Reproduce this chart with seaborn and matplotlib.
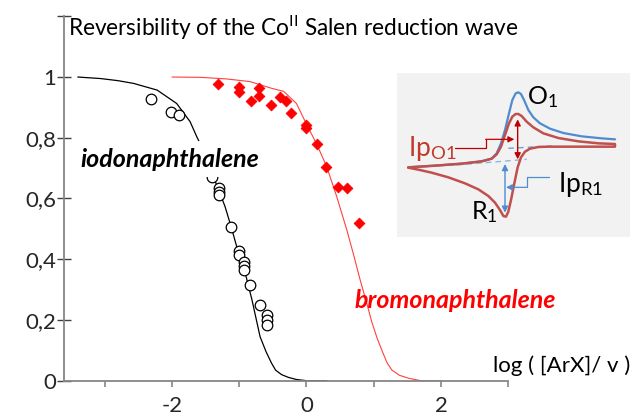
import numpy as np
import pandas as pd
import matplotlib
matplotlib.use("Agg")
import matplotlib.pyplot as plt
import seaborn as sns

# ---------------- data ----------------
iodo_x = [-2.31, -2.015, -1.90, -1.405, -1.307, -1.307, -1.307, -1.123, -1.0, -1.0,
          -0.926, -0.926, -0.926, -0.837, -0.698, -0.589, -0.589, -0.589]
iodo_y = [0.927, 0.885, 0.874, 0.672, 0.633, 0.622, 0.611, 0.507, 0.428, 0.414,
          0.392, 0.378, 0.363, 0.315, 0.249, 0.216, 0.199, 0.183]

bromo_x = [-1.31, -1.01, -1.0, -0.70, -0.70, -0.83, -0.53, -0.40, -0.30, -0.23,
           0.0, 0.0, 0.16, 0.29, 0.47, 0.60, 0.78]
bromo_y = [0.977, 0.968, 0.952, 0.963, 0.937, 0.921, 0.909, 0.935, 0.922, 0.880,
           0.842, 0.831, 0.779, 0.705, 0.637, 0.633, 0.518]

iodo_fit_x = [-3.4, -3.06, -2.8, -2.57, -2.22, -1.93, -1.73, -1.63, -1.5, -1.40, -1.30,
              -1.21, -1.12, -1.03, -0.91, -0.81, -0.69, -0.60, -0.52, -0.46, -0.37,
              -0.27, -0.15, 0.0, 0.3]
iodo_fit_y = [1.0, 0.995, 0.988, 0.979, 0.957, 0.913, 0.853, 0.803, 0.745, 0.68, 0.625,
              0.573, 0.507, 0.436, 0.354, 0.266, 0.145, 0.095, 0.058, 0.035, 0.020,
              0.011, 0.004, 0.0, 0.0]

bromo_fit_x = [-2.0, -1.58, -1.2, -0.84, -0.52, -0.34, -0.15, 0.0, 0.15, 0.30, 0.45,
               0.60, 0.70, 0.80, 0.89, 0.97, 1.05, 1.13, 1.20, 1.27, 1.38, 1.52, 1.70, 2.0]
bromo_fit_y = [1.0, 0.999, 0.994, 0.985, 0.963, 0.953, 0.913, 0.845, 0.78, 0.705,
               0.606, 0.496, 0.415, 0.33, 0.26, 0.194, 0.14, 0.095, 0.058, 0.035, 0.018,
               0.008, 0.0, 0.0]

y_ticks = [0, 0.2, 0.4, 0.6, 0.8, 1.0, 1.2]
y_labels = ["0", "0,2", "0,4", "0,6", "0,8", "1", ""]
x_ticks = [-3, -2, -1, 0, 1, 2, 3]
x_labels = ["", "-2", "", "0", "", "2", ""]

# inset schematic (cyclic voltammogram), in inset pixel units
cv_blue_x = [40, 120, 200, 260, 290, 305, 318, 330, 342, 352, 362, 370, 378, 388, 400,
             415, 435, 465, 505, 560, 620, 660]
cv_blue_y = [292, 287, 281, 274, 266, 250, 220, 180, 130, 90, 70, 67, 72, 92, 120,
             142, 160, 176, 189, 199, 205, 208]
cv_red_x = [40, 120, 200, 260, 290, 305, 318, 330, 342, 352, 362, 370, 380, 395, 415,
            445, 490, 550, 610, 660,
            660, 600, 520, 460, 430, 405, 390, 378, 368, 358, 348, 340, 333, 325, 315,
            300, 280, 250, 210, 160, 110, 70, 40]
cv_red_y = [292, 287, 281, 274, 266, 253, 230, 195, 160, 140, 132, 132, 138, 155, 172,
            190, 204, 214, 220, 222,
            230, 230, 230, 230, 231, 236, 245, 262, 292, 340, 390, 425, 440, 438, 420,
            398, 378, 358, 340, 322, 308, 299, 293]
base_ox_x = [340, 470]
base_ox_y = [235, 228]
base_red_x = [185, 395]
base_red_y = [285, 268]
lead_o_x = [180, 272, 272, 358]
lead_o_y = [235, 235, 208, 208]
lead_r_x = [462, 395, 395, 333]
lead_r_y = [320, 320, 352, 352]

# ---------------- style ----------------
sns.set_theme(style="white")
plt.rcParams["font.family"] = ["Lato", "DejaVu Sans"]
plt.rcParams["mathtext.fontset"] = "custom"
plt.rcParams["mathtext.rm"] = "Lato"
plt.rcParams["mathtext.it"] = "Lato:italic"
plt.rcParams["mathtext.bf"] = "Lato:bold"

W, H = 632, 417
fig = plt.figure(figsize=(W / 100, H / 100), dpi=100)
fig.patch.set_facecolor("white")


def fx(px):
    return px / W


def fy(py):
    return 1 - py / H


ax = fig.add_axes([fx(64.3), fy(380.7), (508.3 - 64.3) / W, (380.7 - 16.3) / H])
ax.set_facecolor("white")

sns.lineplot(x=iodo_fit_x, y=iodo_fit_y, ax=ax, color="black", lw=0.9,
             sort=False, estimator=None, zorder=2)
sns.lineplot(x=bromo_fit_x, y=bromo_fit_y, ax=ax, color="#ff4040", lw=0.8,
             sort=False, estimator=None, zorder=2)
sns.scatterplot(x=iodo_x, y=iodo_y, ax=ax, marker="o", s=58, color="white",
                edgecolor="black", linewidth=0.9, zorder=3)
sns.scatterplot(x=bromo_x, y=bromo_y, ax=ax, marker="D", s=30, color="red",
                edgecolor="red", linewidth=0.6, zorder=3)

ax.set_xlim(-3.6, 3)
ax.set_ylim(0, 1.2)
ax.set_xticks(x_ticks)
ax.set_xticklabels(x_labels)
ax.set_yticks(y_ticks)
ax.set_yticklabels(y_labels)
for s in ["top", "right"]:
    ax.spines[s].set_visible(False)
for s in ["left", "bottom"]:
    ax.spines[s].set_color("#868686")
    ax.spines[s].set_linewidth(1.3)
ax.tick_params(axis="x", direction="out", length=4, width=1.2, color="#868686",
               labelsize=16, pad=7, bottom=True)
ax.tick_params(axis="y", direction="inout", length=10, width=1.0, color="#404040",
               labelsize=16, pad=1, left=True)
ax.set_xlabel("")
ax.set_ylabel("")
ax.grid(False)

# labels
fig.text(fx(68), fy(28), r"Reversibility of the Co$^{\mathregular{II}}$ Salen reduction wave",
         ha="left", va="center", fontsize=16.3, color="black")
fig.text(fx(630), fy(366), "log ( [ArX]/ v )", ha="right", va="center",
         fontsize=16, color="black")
fig.text(fx(170), fy(159), "iodonaphthalene", ha="center", va="center",
         fontsize=18, fontweight="bold", fontstyle="italic", color="black",
         bbox=dict(facecolor="white", edgecolor="none", pad=4.5), zorder=5)
fig.text(fx(455), fy(300), "bromonaphthalene", ha="center", va="center",
         fontsize=18, fontweight="bold", fontstyle="italic", color="red", zorder=5)

# ---------------- inset ----------------
ins = fig.add_axes([fx(395), fy(240), 237 / W, 170 / H])
ins.set_xlim(0, 711)
ins.set_ylim(510, 0)
ins.axis("off")
ins.add_patch(plt.Rectangle((6, 9), 699, 492, facecolor="#f2f2f2", edgecolor="none", zorder=0))
RED = "#c0504d"
BLUE = "#4f8bd0"
sns.lineplot(x=base_red_x, y=base_red_y, ax=ins, color="#8fb3e0", lw=1.0, ls=(0, (4, 3)),
             sort=False, estimator=None, zorder=1)
sns.lineplot(x=base_ox_x, y=base_ox_y, ax=ins, color="#6f9fdc", lw=1.0, ls=(0, (4, 3)),
             sort=False, estimator=None, zorder=1)
sns.lineplot(x=cv_blue_x, y=cv_blue_y, ax=ins, color=BLUE, lw=1.6, sort=False,
             estimator=None, zorder=2)
sns.lineplot(x=cv_red_x, y=cv_red_y, ax=ins, color=RED, lw=1.8, sort=False,
             estimator=None, zorder=3)
sns.lineplot(x=lead_o_x[:-1], y=lead_o_y[:-1], ax=ins, color="#c00000", lw=0.9,
             sort=False, estimator=None, zorder=4)
sns.lineplot(x=lead_r_x[:-1], y=lead_r_y[:-1], ax=ins, color=BLUE, lw=0.9,
             sort=False, estimator=None, zorder=4)
ins.annotate("", xy=(lead_o_x[-1], lead_o_y[-1]), xytext=(lead_o_x[-2], lead_o_y[-2]),
             arrowprops=dict(arrowstyle="-|>", color="#c00000", lw=0.9, mutation_scale=9,
                             shrinkA=0, shrinkB=0), zorder=4)
ins.annotate("", xy=(lead_r_x[-1], lead_r_y[-1]), xytext=(lead_r_x[-2], lead_r_y[-2]),
             arrowprops=dict(arrowstyle="-|>", color=BLUE, lw=0.9, mutation_scale=9,
                             shrinkA=0, shrinkB=0), zorder=4)
ins.annotate("", xy=(368, 148), xytext=(368, 268),
             arrowprops=dict(arrowstyle="<|-|>", color="#c00000", lw=1.0, mutation_scale=9,
                             shrinkA=0, shrinkB=0), zorder=5)
ins.annotate("", xy=(330, 282), xytext=(330, 428),
             arrowprops=dict(arrowstyle="<|-|>", color=BLUE, lw=1.0, mutation_scale=9,
                             shrinkA=0, shrinkB=0), zorder=5)
ins.text(442, 82, r"O$_1$", ha="center", va="center", fontsize=18, color="black")
ins.text(268, 425, r"R$_1$", ha="center", va="center", fontsize=18, color="black")
ins.text(112, 235, r"Ip$_{\mathregular{O1}}$", ha="center", va="center", fontsize=19,
         color="#c0392b")
ins.text(556, 343, r"Ip$_{\mathregular{R1}}$", ha="center", va="center", fontsize=19,
         color="black")

fig.savefig("out.png", dpi=100)
